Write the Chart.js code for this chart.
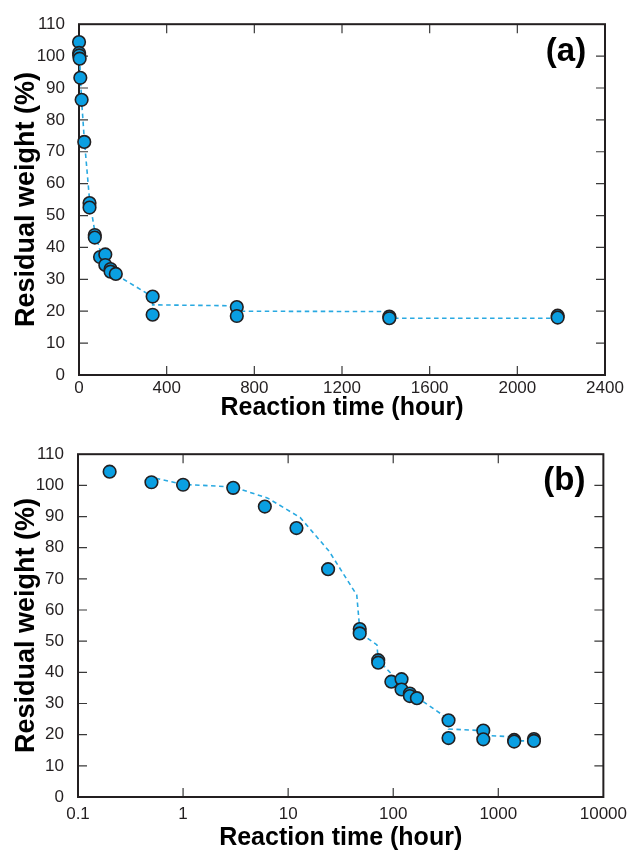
<!DOCTYPE html>
<html>
<head>
<meta charset="utf-8">
<script src="https://cdn.jsdelivr.net/npm/chart.js@4/dist/chart.umd.min.js"></script>
<style>
  body { margin: 0; background: #fff; }
  #wrap { position: relative; width: 634px; height: 853px; }
  canvas { position: absolute; left: 0; display: block; }
</style>
</head>
<body>
<div id="wrap">
  <canvas id="chartA" width="634" height="430" style="top:0"></canvas>
  <canvas id="chartB" width="634" height="423" style="top:430px"></canvas>
</div>
<script>
// measured points (same data in both panels)
const hours = [0.2, 0.5, 1, 3, 6, 12, 24, 48, 48, 72, 72, 96, 120, 120, 144, 144, 168, 336, 336, 720, 720, 1416, 1416, 2184, 2184];
const weight = [104.4, 101.0, 100.2, 99.2, 93.2, 86.3, 73.1, 53.9, 52.5, 43.9, 43.1, 37.0, 37.8, 34.5, 33.2, 32.4, 31.7, 24.6, 18.9, 21.3, 18.5, 18.3, 17.8, 18.6, 18.0];

// dashed guide line, panel (a)
const guideHoursA = [0.5, 3, 6, 12, 24, 48, 72, 96, 120, 144, 168, 336, 336, 720, 720, 1416, 1416, 2184];
const guideWeightA = [102, 99.5, 94, 86, 74, 55, 45, 39, 35.5, 33, 31.5, 24.5, 22, 21.7, 20, 19.9, 17.8, 17.8];

// dashed guide line, panel (b)
const guideHoursB = [0.55, 1, 3, 6.4, 13, 24.5, 45, 47.5, 48, 70, 72, 96, 120, 144, 168, 290, 336, 336, 720, 720, 1416, 1416, 2184];
const guideWeightB = [102.3, 100.3, 99.5, 95.9, 89.7, 78.9, 64.8, 55.6, 52.7, 48.8, 44, 39.5, 36, 34, 32, 26.5, 24.4, 21.8, 21.3, 19.8, 19.3, 18.0, 18.0];

// ticks
const yTicks = [0, 10, 20, 30, 40, 50, 60, 70, 80, 90, 100, 110];
const xTicksA = [0, 400, 800, 1200, 1600, 2000, 2400];
const xTicksB = [0.1, 1, 10, 100, 1000, 10000];
const xTickLabelsB = ["0.1", "1", "10", "100", "1000", "10000"];

const ink = "#231f20";
const dotFill = "#0a9fe2";
const dashColor = "#29a9e1";
const fontFamily = "'Liberation Sans', Arial, sans-serif";

// frame, inward ticks on all four sides, panel letter
const framePlugin = {
  id: "frame",
  beforeDatasetsDraw(chart) {
    const ctx = chart.ctx;
    const a = chart.chartArea;
    const len = 9;
    ctx.save();
    ctx.strokeStyle = "#3a3a3a";
    ctx.lineWidth = 1.2;
    chart.scales.x.ticks.forEach(t => {
      let px = chart.scales.x.getPixelForValue(t.value);
      if (px < a.left + 2 || px > a.right - 2) return;
      ctx.beginPath();
      ctx.moveTo(px, a.bottom); ctx.lineTo(px, a.bottom - len);
      ctx.moveTo(px, a.top); ctx.lineTo(px, a.top + len);
      ctx.stroke();
    });
    chart.scales.y.ticks.forEach(t => {
      let py = chart.scales.y.getPixelForValue(t.value);
      if (py < a.top + 2 || py > a.bottom - 2) return;
      ctx.beginPath();
      ctx.moveTo(a.left, py); ctx.lineTo(a.left + len, py);
      ctx.moveTo(a.right, py); ctx.lineTo(a.right - len, py);
      ctx.stroke();
    });
    ctx.strokeStyle = ink;
    ctx.lineWidth = 2;
    ctx.strokeRect(a.left, a.top, a.right - a.left, a.bottom - a.top);
    ctx.restore();
  },
  afterDraw(chart, args, opts) {
    const ctx = chart.ctx;
    const a = chart.chartArea;
    ctx.save();
    ctx.fillStyle = "#000";
    ctx.font = "bold 33px " + fontFamily;
    ctx.textAlign = "center";
    ctx.textBaseline = "middle";
    ctx.fillText(opts.label, a.right - 39, a.top + opts.dy);
    ctx.restore();
  }
};

function setTicks(list) {
  return scale => { scale.ticks = list.map(v => ({ value: v })); };
}

function makeChart(id, cfg) {
  const pts = cfg.hours.map((h, i) => ({ x: h, y: cfg.weight[i] }));
  const guide = cfg.guideHours.map((h, i) => ({ x: h, y: cfg.guideWeight[i] }));

  return new Chart(document.getElementById(id), {
    type: "scatter",
    data: {
      datasets: [
        {
          data: pts,
          pointRadius: 6.3,
          pointBackgroundColor: dotFill,
          pointBorderColor: ink,
          pointBorderWidth: 1.6,
          clip: false
        },
        {
          data: guide,
          showLine: true,
          pointRadius: 0,
          borderColor: dashColor,
          borderWidth: 1.6,
          borderDash: [4.5, 3.5],
          fill: false
        }
      ]
    },
    plugins: [framePlugin],
    options: {
      responsive: false,
      animation: false,
      devicePixelRatio: 1,
      layout: { padding: cfg.padding },
      plugins: {
        legend: { display: false },
        tooltip: { enabled: false },
        frame: { label: cfg.label, dy: cfg.labelDy }
      },
      scales: {
        x: {
          type: cfg.xType,
          min: cfg.xMin,
          max: cfg.xMax,
          grid: { display: false, drawTicks: false },
          border: { display: false },
          afterBuildTicks: setTicks(cfg.xTicks),
          ticks: {
            autoSkip: false,
            maxRotation: 0,
            padding: cfg.xTickPad,
            color: ink,
            font: { family: fontFamily, size: 17 },
            callback: cfg.xLabel
          },
          title: {
            display: true,
            text: "Reaction time (hour)",
            color: "#000",
            font: { family: fontFamily, size: 25, weight: "bold" },
            padding: { top: 0, bottom: cfg.xTitlePad }
          },
          afterFit: s => { s.height = cfg.xHeight; }
        },
        y: {
          min: 0,
          max: 110,
          grid: { display: false, drawTicks: false },
          border: { display: false },
          afterBuildTicks: setTicks(yTicks),
          ticks: {
            padding: 14,
            color: ink,
            font: { family: fontFamily, size: 17 }
          },
          title: {
            display: true,
            text: "Residual weight (%)",
            color: "#000",
            font: { family: fontFamily, size: 27, weight: "bold" },
            padding: { top: 10, bottom: 0 }
          },
          afterFit: s => { s.width = cfg.yWidth; }
        }
      }
    }
  });
}

makeChart("chartA", {
  hours: hours, weight: weight,
  guideHours: guideHoursA, guideWeight: guideWeightA,
  xType: "linear", xMin: 0, xMax: 2400, xTicks: xTicksA,
  xLabel: v => String(v),
  padding: { top: 21, right: 29, left: 0, bottom: 0 },
  xHeight: 55, yWidth: 79, xTickPad: 3, xTitlePad: 7,
  label: "(a)", labelDy: 28
});

makeChart("chartB", {
  hours: hours, weight: weight,
  guideHours: guideHoursB, guideWeight: guideWeightB,
  xType: "logarithmic", xMin: 0.1, xMax: 10000, xTicks: xTicksB,
  xLabel: v => xTickLabelsB[xTicksB.indexOf(v)] ?? "",
  padding: { top: 13, right: 29, left: 0, bottom: 0 },
  xHeight: 56, yWidth: 78, xTickPad: 7, xTitlePad: 0,
  label: "(b)", labelDy: 27
});
</script>
</body>
</html>
